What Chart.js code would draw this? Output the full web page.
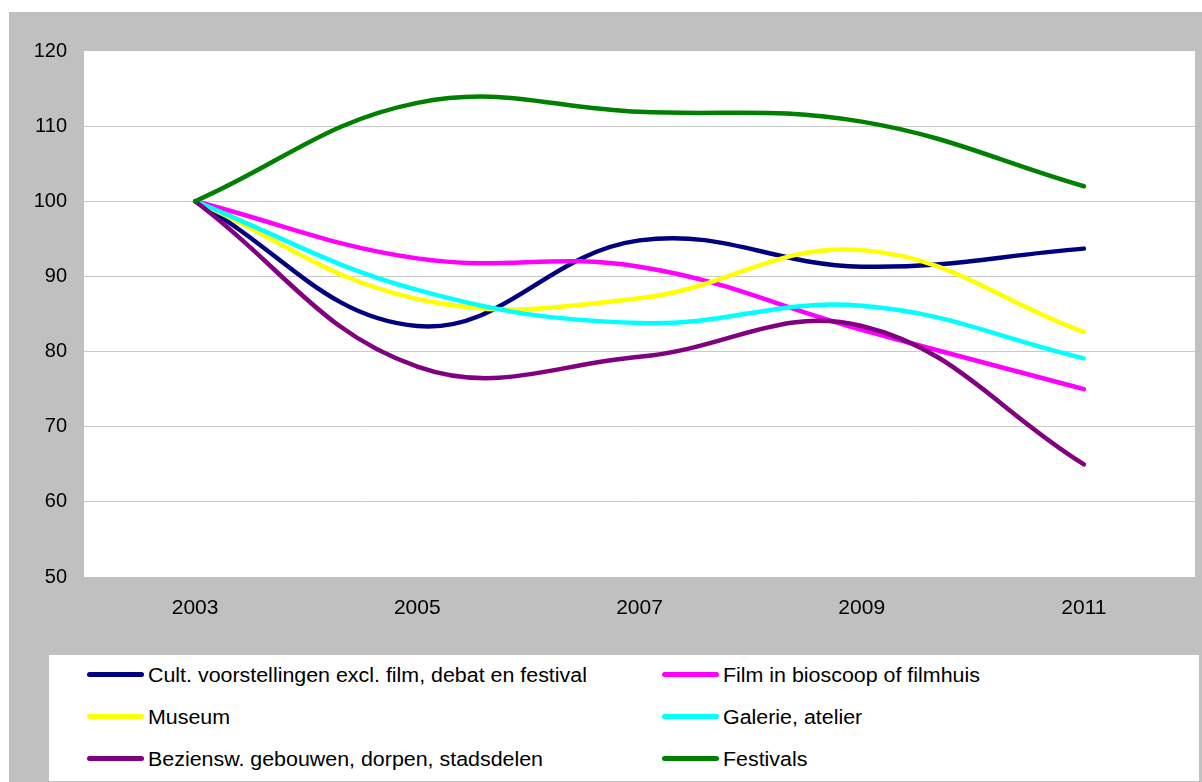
<!DOCTYPE html>
<html>
<head>
<meta charset="utf-8">
<script src="https://cdn.jsdelivr.net/npm/chart.js@4"></script>
<style>
html,body{margin:0;padding:0;background:#fff;}
#wrap{position:relative;width:1202px;height:782px;overflow:hidden;}
#bg{position:absolute;left:9px;top:12px;width:1193px;height:770px;background:#c0c0c0;}
#c{position:absolute;left:0;top:0;}
#legend{position:absolute;left:49px;top:655px;width:1150px;height:126px;background:#fff;font-family:"Liberation Sans",Arial,sans-serif;font-size:20px;color:#000;}
.item{position:absolute;height:24px;line-height:24px;white-space:nowrap;}
.swatch{position:absolute;left:0;top:9px;width:57px;height:5px;border-radius:3px;}
.lbl{position:absolute;left:61px;top:0;transform:scaleX(1.07);transform-origin:0 50%;}
</style>
</head>
<body>
<div id="wrap">
  <div id="bg"></div>
  <canvas id="c" width="1202" height="782"></canvas>
  <div id="legend"></div>
</div>
<script>
const years = ['2003', '2005', '2007', '2009', '2011'];
const yTicks = [50, 60, 70, 80, 90, 100, 110, 120];

const cult      = [100, 83.4, 94.8, 91.3, 93.7];
const film      = [100, 92.4, 91.3, 82.9, 75.0];
const museum    = [100, 87.0, 87.1, 93.5, 82.6];
const galerie   = [100, 88.2, 83.8, 86.1, 79.1];
const beziensw  = [100, 78.0, 79.3, 83.4, 65.0];
const festivals = [100, 113.1, 111.9, 110.6, 102.0];

const seriesNames = [
  'Cult. voorstellingen excl. film, debat en festival',
  'Film in bioscoop of filmhuis',
  'Museum',
  'Galerie, atelier',
  'Beziensw. gebouwen, dorpen, stadsdelen',
  'Festivals'
];
const seriesData = [cult, film, museum, galerie, beziensw, festivals];
const seriesColors = ['#000080', '#ff00ff', '#ffff00', '#00ffff', '#800080', '#008000'];

const FONT = '"Liberation Sans", Arial, sans-serif';

const plotBg = {
  id: 'plotBg',
  beforeDraw(chart) {
    const a = chart.chartArea, ctx = chart.ctx;
    ctx.save();
    ctx.fillStyle = '#ffffff';
    ctx.fillRect(a.left, a.top, a.right - a.left, a.bottom - a.top);
    ctx.restore();
  }
};

const datasets = seriesNames.map((name, i) => ({
  label: name,
  data: seriesData[i],
  borderColor: seriesColors[i],
  backgroundColor: seriesColors[i],
  borderWidth: 4.5,
  tension: 0.4,
  pointRadius: 0,
  pointHoverRadius: 0,
  borderCapStyle: 'round',
  borderJoinStyle: 'round',
  fill: false,
  clip: false,
  order: seriesNames.length - i
}));

const chart = new Chart(document.getElementById('c'), {
  type: 'line',
  data: { labels: years, datasets },
  plugins: [plotBg],
  options: {
    responsive: false,
    animation: false,
    events: [],
    layout: { padding: { left: 9, right: 7, top: 51, bottom: 0 } },
    plugins: { legend: { display: false }, tooltip: { enabled: false }, title: { display: false } },
    scales: {
      x: {
        type: 'category',
        offset: true,
        grid: { display: false, drawTicks: false },
        border: { display: false },
        ticks: { font: { family: FONT, size: 21 }, color: '#000', padding: 19, maxRotation: 0 },
        afterFit(s) { s.height = 205; }
      },
      y: {
        min: yTicks[0],
        max: yTicks[yTicks.length - 1],
        afterBuildTicks(s) { s.ticks = yTicks.map(v => ({ value: v })); },
        grid: {
          drawTicks: false,
          color: (c) => (c.tick && (c.tick.value === 120 || c.tick.value === 50)) ? 'rgba(0,0,0,0)' : '#c8c8c8',
          lineWidth: 1
        },
        border: { display: false },
        ticks: { font: { family: FONT, size: 20 }, color: '#000', padding: 17 },
        afterFit(s) { s.width = 75; }
      }
    }
  }
});

// HTML legend in two columns, built from the chart's datasets
const legend = document.getElementById('legend');
const colX = [38, 613];
const rowY = [8, 50, 92];
chart.data.datasets.forEach((ds, i) => {
  const item = document.createElement('div');
  item.className = 'item';
  item.style.left = colX[i % 2] + 'px';
  item.style.top = rowY[Math.floor(i / 2)] + 'px';
  const sw = document.createElement('div');
  sw.className = 'swatch';
  sw.style.background = ds.borderColor;
  const lb = document.createElement('span');
  lb.className = 'lbl';
  lb.textContent = ds.label;
  item.appendChild(sw);
  item.appendChild(lb);
  legend.appendChild(item);
});
</script>
</body>
</html>
